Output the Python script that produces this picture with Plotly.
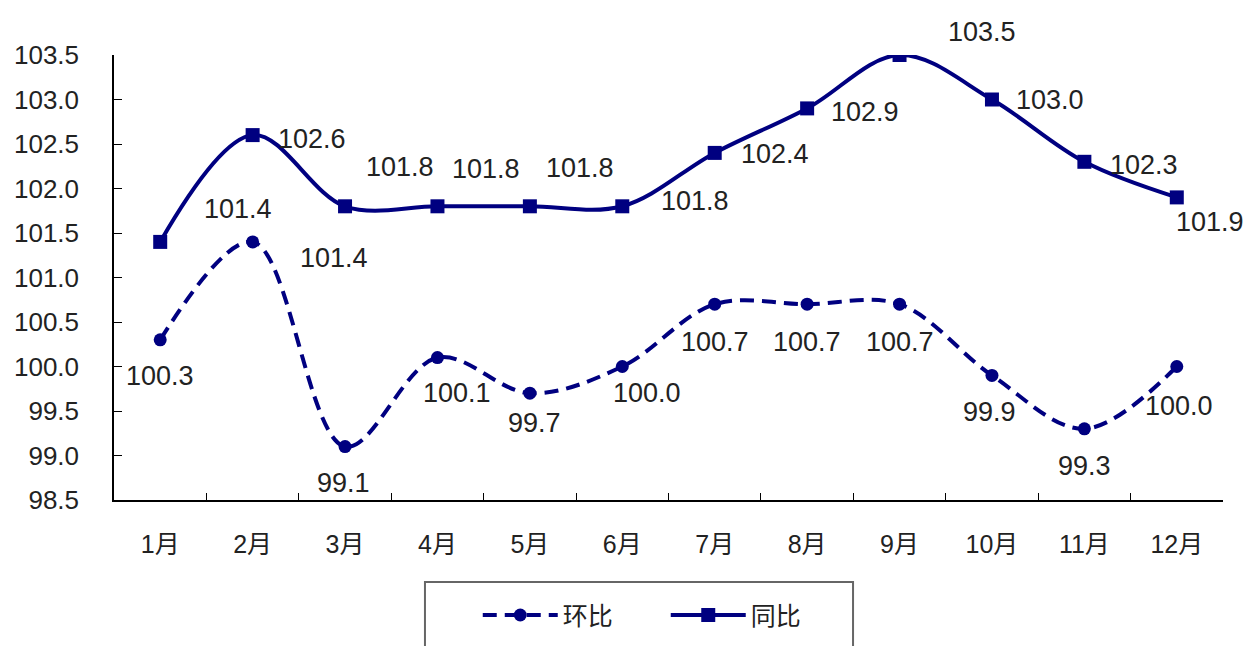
import plotly.graph_objects as go

months = ["1月", "2月", "3月", "4月", "5月", "6月", "7月", "8月", "9月", "10月", "11月", "12月"]
huanbi = [100.3, 101.4, 99.1, 100.1, 99.7, 100.0, 100.7, 100.7, 100.7, 99.9, 99.3, 100.0]
tongbi = [101.4, 102.6, 101.8, 101.8, 101.8, 101.8, 102.4, 102.9, 103.5, 103.0, 102.3, 101.9]

# label pixel offsets (dx right, dy down) relative to each point
tongbi_off = [(78, -33), (59, 4), (55, -39), (49, -37), (50, -38), (73, -5),
              (60, 1), (58, 4), (82, -23), (58, 0), (60, 3), (33, 25)]
huanbi_off = [(0, 36), (81, 16), (-2, 36), (20, 35), (5, 30), (25, 26),
              (0, 38), (0, 38), (0, 38), (-2, 37), (0, 37), (2, 39)]

NAVY = "#000080"
FONT = "Arial, Liberation Sans, Noto Sans CJK SC, sans-serif"

fig = go.Figure()
fig.add_trace(go.Scatter(
    x=months, y=huanbi, name="环比", mode="lines+markers",
    line=dict(color=NAVY, width=4, shape="spline", smoothing=1, dash="14px,8px"),
    marker=dict(symbol="circle", size=13, color=NAVY),
))
fig.add_trace(go.Scatter(
    x=months, y=tongbi, name="同比", mode="lines+markers",
    line=dict(color=NAVY, width=4, shape="spline", smoothing=1),
    marker=dict(symbol="square", size=14, color=NAVY),
))

anns = []
for m, v, (dx, dy) in zip(months, tongbi, tongbi_off):
    anns.append(dict(x=m, y=v, xref="x", yref="y", text=f"{v:.1f}", showarrow=False,
                     xshift=dx, yshift=-dy, font=dict(size=27, color="#222222", family=FONT)))
for m, v, (dx, dy) in zip(months, huanbi, huanbi_off):
    anns.append(dict(x=m, y=v, xref="x", yref="y", text=f"{v:.1f}", showarrow=False,
                     xshift=dx, yshift=-dy, font=dict(size=27, color="#222222", family=FONT)))

fig.update_layout(
    width=1247, height=646,
    margin=dict(l=114, r=24, t=55, b=146, autoexpand=False),
    paper_bgcolor="white", plot_bgcolor="white",
    font=dict(family=FONT, size=25, color="#222222"),
    annotations=anns,
    showlegend=True,
    legend=dict(orientation="h", x=0.328, y=-0.259, xanchor="left", yanchor="middle",
                itemwidth=75, entrywidth=98, font=dict(size=25, family=FONT, color="#222222"),
                bgcolor="rgba(0,0,0,0)", tracegroupgap=0),
    shapes=[dict(type="rect", xref="paper", yref="paper", x0=0.2804, x1=0.6664,
                 y0=-0.45, y1=-0.1843, line=dict(color="#666666", width=2))],
)
fig.update_xaxes(type="category", range=[-0.5, 11.5], showline=True, linecolor="black",
                 linewidth=1.5, ticks="inside", ticklen=7, tickcolor="black", tickson="boundaries",
                 showgrid=False, zeroline=False, ticklabelstandoff=21,
                 tickfont=dict(size=25, family=FONT, color="#222222"))
fig.update_yaxes(range=[98.5, 103.5], dtick=0.5, tickformat=".1f", showline=True,
                 linecolor="black", linewidth=1.5, ticks="inside", ticklen=8, tickcolor="black",
                 showgrid=False, zeroline=False, ticklabelstandoff=28,
                 tickfont=dict(size=26, family=FONT, color="#222222"))

fig.write_html("out.html", config={"displayModeBar": False},
               post_script="document.body.style.margin='0';document.body.style.overflow='hidden';")
